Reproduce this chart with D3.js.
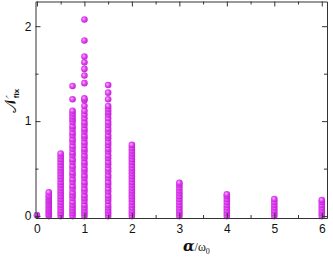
<!DOCTYPE html>
<html>
<head>
<meta charset="utf-8">
<script src="https://cdn.jsdelivr.net/npm/d3@7"></script>
<style>
  body { margin: 0; background: #fff; }
  svg { display: block; font-family: "Liberation Sans", Arial, sans-serif; }
</style>
</head>
<body>
<div id="chart"></div>
<script>
//** data: one column of points per alpha/omega0 value
const alphas = [0, 0.25, 0.5, 0.75, 1, 1.5, 2, 3, 4, 5, 6];
const nfix0 = [0.01];
const nfix025 = [0, 0.02, 0.04, 0.06, 0.08, 0.1, 0.12, 0.14, 0.16, 0.18, 0.2, 0.22, 0.25];
const nfix05 = [0, 0.03, 0.06, 0.09, 0.12, 0.15, 0.18, 0.21, 0.24, 0.27, 0.3, 0.33, 0.36, 0.39, 0.42, 0.45, 0.48, 0.51, 0.54, 0.57, 0.6, 0.63, 0.66];
const nfix075 = [0, 0.03, 0.06, 0.09, 0.12, 0.15, 0.19, 0.22, 0.25, 0.29, 0.32, 0.36, 0.39, 0.43, 0.46, 0.5, 0.53, 0.57, 0.6, 0.64, 0.67, 0.71, 0.74, 0.78, 0.81, 0.85, 0.88, 0.92, 0.95, 0.99, 1.02, 1.05, 1.08, 1.11, 1.23, 1.37];
const nfix1 = [0, 0.03, 0.06, 0.09, 0.12, 0.16, 0.19, 0.22, 0.26, 0.29, 0.33, 0.36, 0.4, 0.43, 0.47, 0.5, 0.54, 0.57, 0.61, 0.64, 0.68, 0.71, 0.75, 0.78, 0.82, 0.85, 0.89, 0.92, 0.96, 0.99, 1.03, 1.07, 1.11, 1.16, 1.22, 1.24, 1.4, 1.48, 1.55, 1.62, 1.68, 1.85, 2.07];
const nfix15 = [0, 0.03, 0.06, 0.09, 0.12, 0.16, 0.19, 0.22, 0.26, 0.29, 0.33, 0.36, 0.4, 0.43, 0.47, 0.5, 0.54, 0.57, 0.61, 0.64, 0.68, 0.71, 0.75, 0.78, 0.82, 0.85, 0.89, 0.92, 0.96, 0.99, 1.03, 1.07, 1.1, 1.13, 1.16, 1.23, 1.3, 1.38];
const nfix2 = [0, 0.03, 0.06, 0.09, 0.12, 0.15, 0.18, 0.21, 0.24, 0.27, 0.3, 0.33, 0.36, 0.39, 0.42, 0.45, 0.48, 0.51, 0.54, 0.57, 0.6, 0.63, 0.66, 0.69, 0.72, 0.75];
const nfix3 = [0, 0.03, 0.06, 0.09, 0.12, 0.15, 0.18, 0.21, 0.24, 0.27, 0.3, 0.33, 0.35];
const nfix4 = [0, 0.03, 0.06, 0.09, 0.12, 0.15, 0.18, 0.21, 0.23];
const nfix5 = [0, 0.03, 0.06, 0.09, 0.12, 0.15, 0.18];
const nfix6 = [0, 0.03, 0.06, 0.09, 0.12, 0.15, 0.17];
const columns = [nfix0, nfix025, nfix05, nfix075, nfix1, nfix15, nfix2, nfix3, nfix4, nfix5, nfix6];
const xTicks = [0, 1, 2, 3, 4, 5, 6];
const yTicks = [0, 1, 2];

const W = 333, H = 257;
const mLeft = 35.5, mRight = 327, mTop = 1.5, mBottom = 218;

const svg = d3.select('#chart').append('svg')
  .attr('width', W)
  .attr('height', H);

const x = d3.scaleLinear().domain([-0.03, 6.11]).range([mLeft, mRight]);
const y = d3.scaleLinear().domain([-0.02, 2.26]).range([mBottom, mTop]);

//** marker shading
const grad = svg.append('defs').append('radialGradient')
  .attr('id', 'ball')
  .attr('cx', '40%').attr('cy', '40%').attr('r', '60%');
grad.append('stop').attr('offset', '0%').attr('stop-color', '#f7b8ff');
grad.append('stop').attr('offset', '45%').attr('stop-color', '#e24cf2');
grad.append('stop').attr('offset', '100%').attr('stop-color', '#c51fd8');

//** points
const pts = [];
columns.forEach((col, i) => {
  col.forEach(v => pts.push({ a: alphas[i], v: v }));
});
svg.append('g')
  .selectAll('circle')
  .data(pts)
  .join('circle')
  .attr('cx', d => x(d.a))
  .attr('cy', d => y(d.v))
  .attr('r', 3.3)
  .attr('fill', 'url(#ball)');

//** axes with inward ticks on all four sides
const minorX = d3.range(0, 6.01, 0.5).filter(v => !xTicks.includes(v));
const minorY = [0.5, 1.5];
const axisColor = '#333';

function addAxis(axisFn, scale, ticks, size, tr, labels) {
  const g = svg.append('g')
    .attr('transform', tr)
    .call(axisFn(scale).tickValues(ticks).tickSize(size).tickSizeOuter(0)
      .tickFormat(labels ? d3.format('d') : ''));
  g.select('.domain').attr('stroke', axisColor);
  g.selectAll('.tick line').attr('stroke', axisColor);
  return g;
}

// bottom
const gx = addAxis(d3.axisBottom, x, xTicks, -5, `translate(0,${mBottom})`, true);
gx.selectAll('.tick text').attr('y', 6).attr('font-size', 12).attr('fill', '#111');
addAxis(d3.axisBottom, x, minorX, -3, `translate(0,${mBottom})`, false).select('.domain').remove();
// top
addAxis(d3.axisTop, x, xTicks, -5, `translate(0,${mTop})`, false);
addAxis(d3.axisTop, x, minorX, -3, `translate(0,${mTop})`, false).select('.domain').remove();
// left
const gy = addAxis(d3.axisLeft, y, yTicks, -5, `translate(${mLeft},0)`, true);
gy.selectAll('.tick text').attr('x', -4).attr('font-size', 12).attr('fill', '#111');
addAxis(d3.axisLeft, y, minorY, -3, `translate(${mLeft},0)`, false).select('.domain').remove();
// right
addAxis(d3.axisRight, y, yTicks, -5, `translate(${mRight},0)`, false);
addAxis(d3.axisRight, y, minorY, -3, `translate(${mRight},0)`, false).select('.domain').remove();

//** labels
const xl = svg.append('text')
  .attr('x', 183)
  .attr('y', 251)
  .attr('text-anchor', 'start')
  .attr('fill', '#111');
xl.append('tspan')
  .attr('font-family', '"DejaVu Serif", serif')
  .attr('font-style', 'italic')
  .attr('font-weight', 'bold')
  .attr('font-size', 15)
  .text('α');
xl.append('tspan')
  .attr('font-family', '"Liberation Serif", serif')
  .attr('font-size', 12)
  .text('/ω');
xl.append('tspan')
  .attr('font-family', '"Liberation Serif", serif')
  .attr('font-size', 8)
  .attr('dy', 3)
  .text('0');

const yl = svg.append('text')
  .attr('transform', 'translate(16,101) rotate(-90)')
  .attr('text-anchor', 'middle')
  .attr('fill', '#111');
yl.append('tspan')
  .attr('font-family', '"DejaVu Serif", serif')
  .attr('font-size', 16)
  .text('𝒩');
yl.append('tspan')
  .attr('font-size', 8)
  .attr('font-weight', 'bold')
  .attr('dy', 3)
  .text('fix');
</script>
</body>
</html>
